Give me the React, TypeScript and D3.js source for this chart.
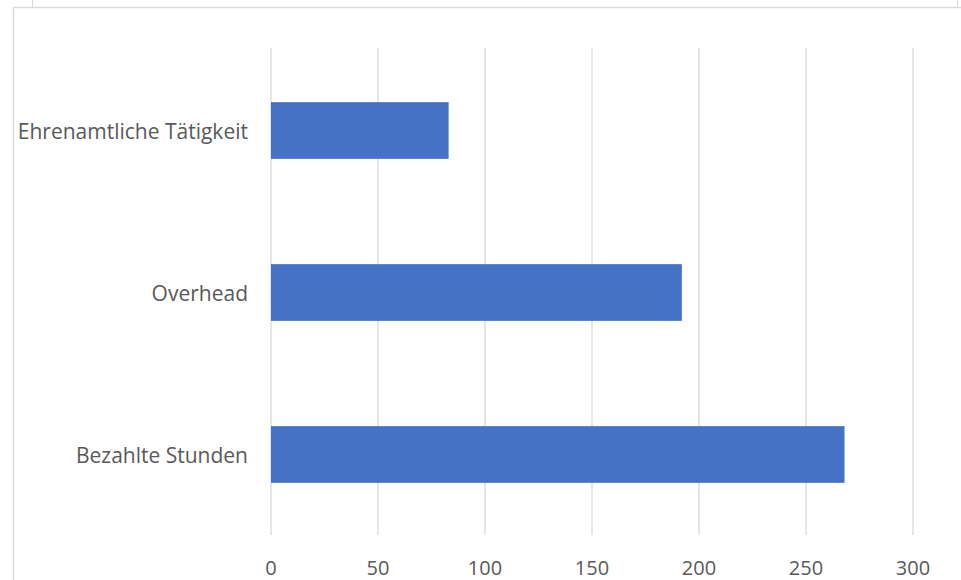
import React from "react";
import * as d3 from "d3";

const categories = ["Ehrenamtliche Tätigkeit", "Overhead", "Bezahlte Stunden"];
const values = [83, 192, 268];
const xTicks = [0, 50, 100, 150, 200, 250, 300];

const W = 961;
const H = 580;
const FONT = "'Open Sans', sans-serif";

export default function App() {
  const x = d3.scaleLinear().domain([0, 300]).range([271, 913]);
  const y = d3.scaleBand<string>().domain(categories).range([49.5, 535.5]).paddingInner(0.65).paddingOuter(0.325);

  return (
    <svg
      width={W}
      height={H}
      style={{ position: "absolute", left: 0, top: 0, background: "#fff" }}
    >
      <rect x={0} y={0} width={W} height={H} fill="#fff" />
      <line x1={32.5} x2={32.5} y1={0} y2={7} stroke="#d9d9d9" strokeWidth={1} />
      <line x1={957.5} x2={957.5} y1={0} y2={7} stroke="#d9d9d9" strokeWidth={1} />
      <line x1={13.5} x2={W} y1={7.5} y2={7.5} stroke="#d9d9d9" strokeWidth={1.5} />
      <line x1={13.5} x2={13.5} y1={7.5} y2={H} stroke="#d9d9d9" strokeWidth={1.5} />

      {xTicks.map((t) => (
        <line
          key={"g" + t}
          x1={x(t)}
          x2={x(t)}
          y1={48}
          y2={535}
          stroke="#d9d9d9"
          strokeWidth={1.3}
        />
      ))}

      {categories.map((c, i) => (
        <rect
          key={c}
          x={x(0)}
          y={y(c)!}
          width={x(values[i]) - x(0)}
          height={y.bandwidth()}
          fill="#4472c4"
        />
      ))}

      {categories.map((c) => (
        <text
          key={"l" + c}
          x={248}
          y={y(c)! + y.bandwidth() / 2}
          textAnchor="end"
          dominantBaseline="central"
          fontFamily={FONT}
          fontSize={21}
          fill="#595959"
        >
          {c}
        </text>
      ))}

      {xTicks.map((t) => (
        <text
          key={"t" + t}
          x={x(t)}
          y={567}
          textAnchor="middle"
          dominantBaseline="central"
          fontFamily={FONT}
          fontSize={20}
          fill="#595959"
        >
          {t}
        </text>
      ))}
    </svg>
  );
}
